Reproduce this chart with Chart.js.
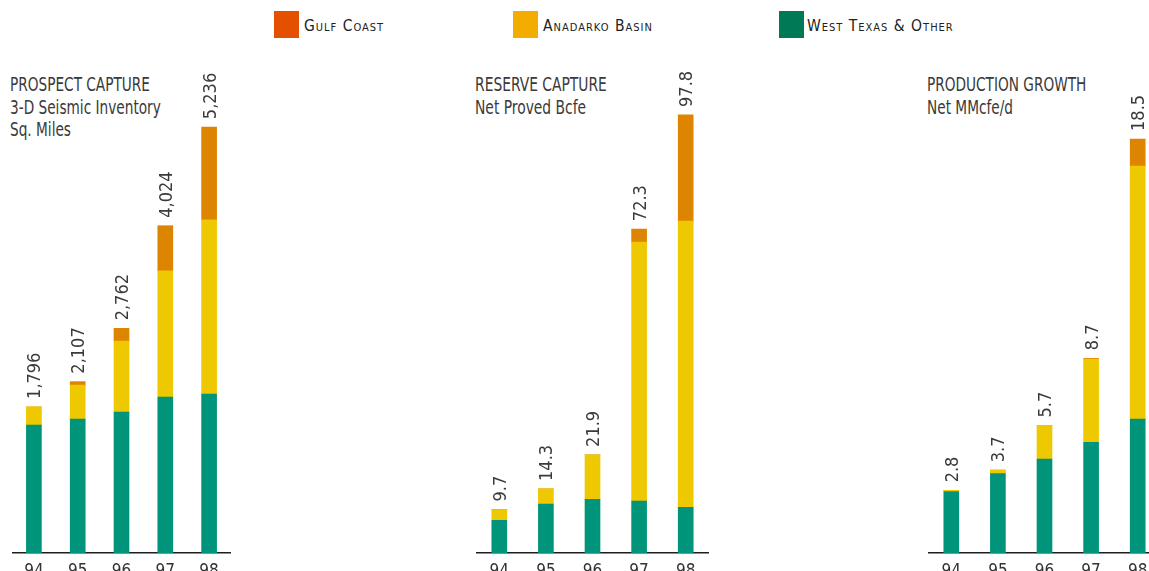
<!DOCTYPE html>
<html>
<head>
<meta charset="utf-8">
<script src="https://cdn.jsdelivr.net/npm/chart.js@4.4.1/dist/chart.umd.min.js"></script>
<style>
  html, body { margin: 0; padding: 0; background: #fff; width: 1149px; height: 571px; overflow: hidden; position: relative; }
  .narrow { font-family: 'Liberation Sans Narrow', 'DejaVu Sans Condensed', 'Roboto', sans-serif; }
  .sq { position: absolute; top: 11px; width: 25px; height: 27px; }
  .lg { position: absolute; top: 19px; font-size: 15.5px; line-height: 15px; font-variant: small-caps; letter-spacing: 1px; color: #222; white-space: nowrap; }
  .title { position: absolute; top: 73px; font-size: 20px; line-height: 22.5px; color: #3a3a3a; white-space: nowrap; transform-origin: 0 0; }
  canvas { position: absolute; top: 0; }
</style>
</head>
<body>
<div class="sq" style="left:274px;background:#E54F00"></div>
<div class="lg narrow" id="lg0" style="left:304px"></div>
<div class="sq" style="left:513px;background:#F3AC00"></div>
<div class="lg narrow" id="lg1" style="left:543px"></div>
<div class="sq" style="left:779px;background:#007A56"></div>
<div class="lg narrow" id="lg2" style="left:807px"></div>

<div class="title narrow" id="t0" style="left:10px"></div>
<div class="title narrow" id="t1" style="left:475px"></div>
<div class="title narrow" id="t2" style="left:927px"></div>

<canvas id="c0" width="219" height="593" style="left:11.5px"></canvas>
<canvas id="c1" width="233" height="593" style="left:476px"></canvas>
<canvas id="c2" width="233" height="593" style="left:928px"></canvas>

<script>
// ---------------- DATA ----------------
const years = ['94', '95', '96', '97', '98'];
const legendNames = ['Gulf Coast', 'Anadarko Basin', 'West Texas & Other'];

// Panel 1: Prospect capture, 3-D seismic inventory (sq. miles)
const prospectTitle = ['PROSPECT CAPTURE', '3-D Seismic Inventory', 'Sq. Miles'];
const prospectWestTexas = [1572, 1646, 1733, 1917, 1954];
const prospectAnadarko  = [224, 419, 874, 1552, 2143];
const prospectGulf      = [0, 42, 155, 555, 1139];

// Panel 2: Reserve capture, net proved Bcfe
const reserveTitle = ['RESERVE CAPTURE', 'Net Proved Bcfe'];
const reserveWestTexas = [7.3, 10.9, 12.0, 11.6, 10.2];
const reserveAnadarko  = [2.4, 3.4, 9.9, 57.8, 63.9];
const reserveGulf      = [0, 0, 0, 2.9, 23.7];

// Panel 3: Production growth, net MMcfe/d
const productionTitle = ['PRODUCTION GROWTH', 'Net MMcfe/d'];
const productionWestTexas = [2.75, 3.55, 4.2, 4.95, 5.98];
const productionAnadarko  = [0.05, 0.15, 1.5, 3.72, 11.31];
const productionGulf      = [0, 0, 0, 0.03, 1.21];

// hidden value-axis ranges
const prospectMax = 6000;
const reserveMax = 110;
const productionMax = 20;

// ---------------- STYLE ----------------
const FONT = "'Liberation Sans Narrow', 'DejaVu Sans Condensed', 'Roboto', sans-serif";
const barGreen = '#00957A';
const barYellow = '#EEC800';
const barOrange = '#DD8400';

legendNames.forEach((n, i) => { document.getElementById('lg' + i).textContent = n; });
function setTitle(id, lines, scale) {
  const el = document.getElementById(id);
  el.innerHTML = lines.map(s => s.replace(/&/g, '&amp;')).join('<br>');
  el.style.transform = 'scaleX(' + scale + ')';
}
setTitle('t0', prospectTitle, 0.76);
setTitle('t1', reserveTitle, 0.77);
setTitle('t2', productionTitle, 0.76);

const totalLabelPlugin = {
  id: 'totalLabels',
  afterDatasetsDraw(chart, args, opts) {
    const ctx = chart.ctx;
    const xs = chart.scales.x, ys = chart.scales.y;
    const n = chart.data.labels.length;
    ctx.save();
    ctx.font = '18px ' + FONT;
    ctx.fillStyle = '#3a3a3a';
    ctx.textAlign = 'left';
    ctx.textBaseline = 'alphabetic';
    for (let i = 0; i < n; i++) {
      let total = 0;
      chart.data.datasets.forEach(d => { total += d.data[i]; });
      const label = opts.format(total);
      const x = xs.getPixelForValue(i);
      const y = ys.getPixelForValue(total);
      ctx.save();
      ctx.translate(x + 6.5, y - 8);
      ctx.rotate(-Math.PI / 2);
      ctx.fillText(label, 0, 0);
      ctx.restore();
    }
    ctx.restore();
  }
};

function makeChart(id, west, ana, gulf, maxV, padTop, fmt) {
  return new Chart(document.getElementById(id), {
    type: 'bar',
    data: {
      labels: years,
      datasets: [
        { label: legendNames[2], data: west, backgroundColor: barGreen },
        { label: legendNames[1], data: ana, backgroundColor: barYellow },
        { label: legendNames[0], data: gulf, backgroundColor: barOrange }
      ]
    },
    options: {
      responsive: false,
      animation: false,
      layout: { padding: { top: padTop, left: 0, right: 0, bottom: 0 } },
      datasets: { bar: { barThickness: 15, borderWidth: 0 } },
      plugins: {
        legend: { display: false },
        tooltip: { enabled: false },
        totalLabels: { format: fmt }
      },
      scales: {
        x: {
          stacked: true,
          offset: true,
          grid: { display: false, drawTicks: false },
          border: { display: true, color: '#1e1e1e', width: 1.5 },
          ticks: { color: '#333', font: { family: FONT, size: 17 }, padding: 8, maxRotation: 0 },
          afterFit(scale) { scale.height = 40; }
        },
        y: {
          stacked: true,
          display: false,
          min: 0,
          max: maxV
        }
      }
    },
    plugins: [totalLabelPlugin]
  });
}

const fmtInt = v => Math.round(v).toLocaleString('en-US');
const fmtDec = v => v.toFixed(1);

makeChart('c0', prospectWestTexas, prospectAnadarko, prospectGulf, prospectMax, 65, fmtInt);
makeChart('c1', reserveWestTexas, reserveAnadarko, reserveGulf, reserveMax, 60.3, fmtDec);
makeChart('c2', productionWestTexas, productionAnadarko, productionGulf, productionMax, 105.4, fmtDec);
</script>
</body>
</html>
